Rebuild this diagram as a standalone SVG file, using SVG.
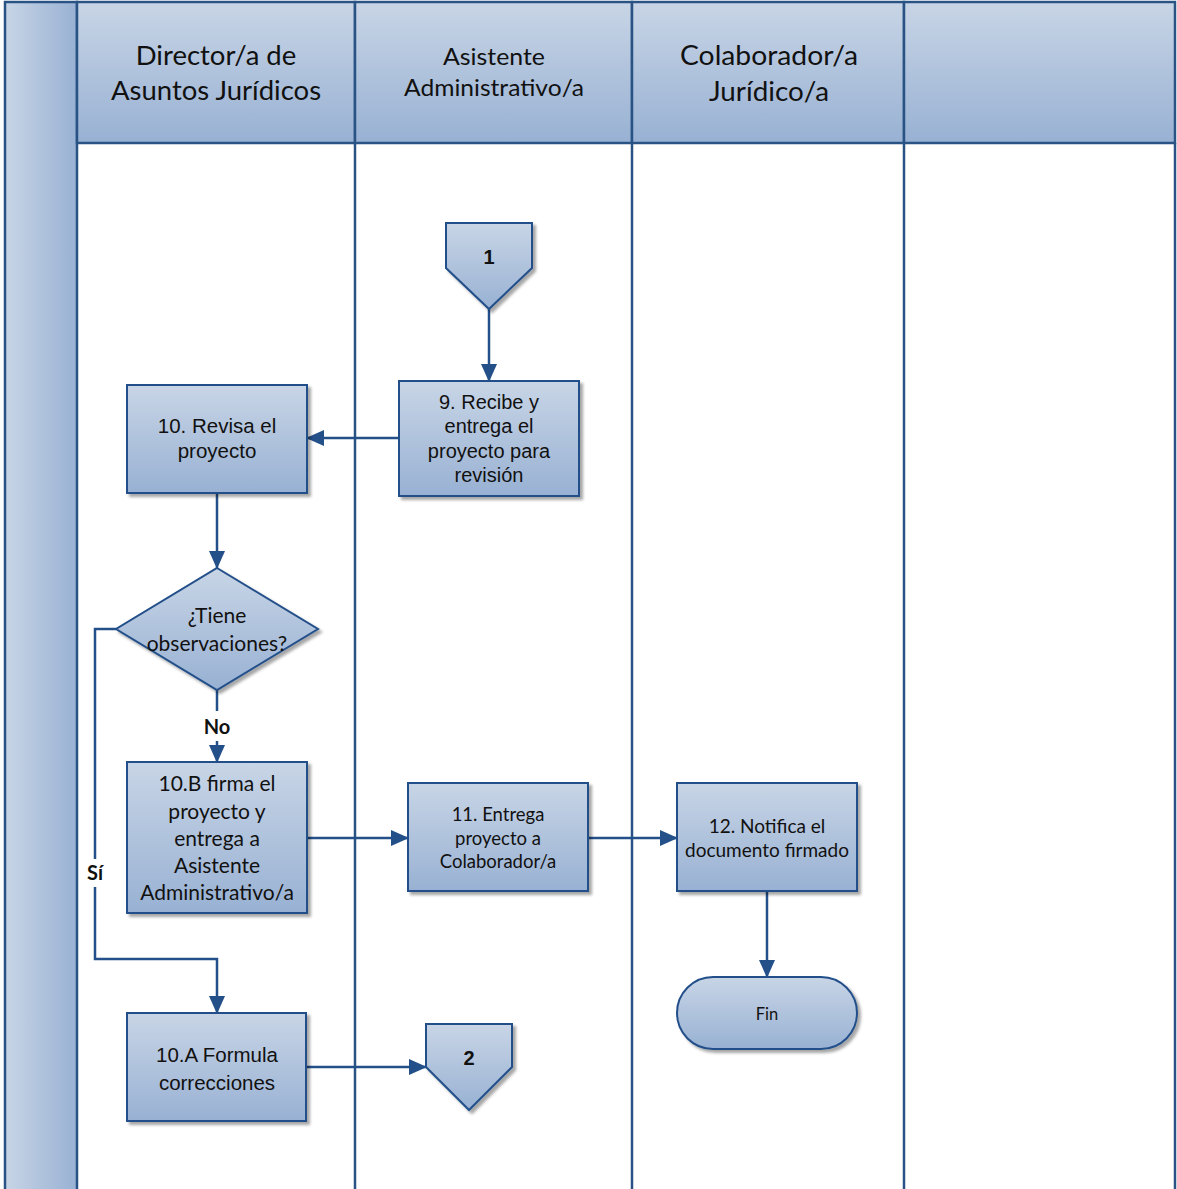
<svg xmlns="http://www.w3.org/2000/svg" width="1177" height="1189" viewBox="0 0 1177 1189">
  <defs>
    <linearGradient id="gFill" x1="0" y1="0" x2="0" y2="1">
      <stop offset="0" stop-color="#c8d5e6"/>
      <stop offset="1" stop-color="#98b1d3"/>
    </linearGradient>
    <linearGradient id="gBand" x1="0" y1="0" x2="1" y2="0">
      <stop offset="0" stop-color="#c8d5e6"/>
      <stop offset="1" stop-color="#98b1d3"/>
    </linearGradient>
    <filter id="shadow" x="-10%" y="-10%" width="130%" height="130%">
      <feDropShadow dx="3" dy="3" stdDeviation="1.5" flood-color="#000" flood-opacity="0.35"/>
    </filter>
    <marker id="arrow" viewBox="0 0 18 16" refX="17" refY="8" markerWidth="18" markerHeight="16" markerUnits="userSpaceOnUse" orient="auto">
      <path d="M0,0 L18,8 L0,16 Z" fill="#24508a"/>
    </marker>
  </defs>
  <style>
    .frame { fill: none; stroke: #2a5385; stroke-width: 2.5; }
    .head { fill: url(#gFill); stroke: #2a5385; stroke-width: 2.5; }
    .shape { fill: url(#gFill); stroke: #24508a; stroke-width: 2; filter: url(#shadow); }
    .conn { fill: none; stroke: #24508a; stroke-width: 2.5; }
    .ha { font-family: "Liberation Sans", Arial, sans-serif; fill: #111; text-anchor: middle; }
    .hc { font-family: Lato, "Noto Sans", sans-serif; fill: #111; text-anchor: middle; }
    .bold { font-weight: bold; }
  </style>

  <!-- swimlane frame -->
  <g id="pool">
    <rect x="5" y="2" width="72" height="1190" fill="url(#gBand)" stroke="#2a5385" stroke-width="2.5"/>
    <rect class="head" x="77" y="2" width="278" height="141"/>
    <rect class="head" x="355" y="2" width="277" height="141"/>
    <rect class="head" x="632" y="2" width="272" height="141"/>
    <rect class="head" x="904" y="2" width="271" height="141"/>
    <line class="frame" x1="355" y1="143" x2="355" y2="1192"/>
    <line class="frame" x1="632" y1="143" x2="632" y2="1192"/>
    <line class="frame" x1="904" y1="143" x2="904" y2="1192"/>
    <line class="frame" x1="1175" y1="143" x2="1175" y2="1192"/>
    <text class="hc" font-size="27.5" x="216" y="65">Director/a de</text>
    <text class="hc" font-size="27.5" x="216" y="100">Asuntos Jurídicos</text>
    <text class="hc" font-size="24" x="494" y="65" textLength="102" lengthAdjust="spacingAndGlyphs">Asistente</text>
    <text class="hc" font-size="24" x="494" y="96" textLength="180" lengthAdjust="spacingAndGlyphs">Administrativo/a</text>
    <text class="hc" font-size="27" x="769" y="65" textLength="178" lengthAdjust="spacingAndGlyphs">Colaborador/a</text>
    <text class="hc" font-size="27" x="769" y="101" textLength="120" lengthAdjust="spacingAndGlyphs">Jurídico/a</text>
  </g>

  <!-- connectors -->
  <g id="connectors">
    <line class="conn" x1="489" y1="309" x2="489" y2="381" marker-end="url(#arrow)"/>
    <line class="conn" x1="399" y1="438" x2="307" y2="438" marker-end="url(#arrow)"/>
    <line class="conn" x1="217" y1="493" x2="217" y2="568" marker-end="url(#arrow)"/>
    <polyline class="conn" points="217,690 217,711"/>
    <line class="conn" x1="217" y1="741" x2="217" y2="762" marker-end="url(#arrow)"/>
    <polyline class="conn" points="116,629 95,629 95,859"/>
    <polyline class="conn" points="95,887 95,959 217,959 217,1013" marker-end="url(#arrow)"/>
    <line class="conn" x1="307" y1="838" x2="408" y2="838" marker-end="url(#arrow)"/>
    <line class="conn" x1="588" y1="838" x2="677" y2="838" marker-end="url(#arrow)"/>
    <line class="conn" x1="767" y1="891" x2="767" y2="977" marker-end="url(#arrow)"/>
    <line class="conn" x1="306" y1="1067" x2="426" y2="1067" marker-end="url(#arrow)"/>
    <text class="hc bold" font-size="20" x="217" y="734">No</text>
    <text class="hc bold" font-size="20" x="95" y="880">Sí</text>
  </g>

  <g id="offpage-1">
    <path class="shape" d="M446,223 L532,223 L532,268 L489,309 L446,268 Z"/>
    <text class="ha bold" font-size="20" x="489" y="264">1</text>
  </g>

  <g id="step-9">
    <rect class="shape" x="399" y="381" width="180" height="115"/>
    <text class="ha" font-size="20" x="489" y="409">9. Recibe y</text>
    <text class="ha" font-size="20" x="489" y="433">entrega el</text>
    <text class="ha" font-size="20" x="489" y="458">proyecto para</text>
    <text class="ha" font-size="20" x="489" y="482">revisión</text>
  </g>

  <g id="step-10">
    <rect class="shape" x="127" y="385" width="180" height="108"/>
    <text class="ha" font-size="20.5" x="217" y="433">10. Revisa el</text>
    <text class="ha" font-size="20.5" x="217" y="458">proyecto</text>
  </g>

  <g id="decision">
    <path class="shape" d="M217,568 L318,629 L217,690 L116,629 Z"/>
    <text class="hc" font-size="21" x="217" y="623">¿Tiene</text>
    <text class="hc" font-size="21" x="217" y="651">observaciones?</text>
  </g>

  <g id="step-10b">
    <rect class="shape" x="127" y="762" width="180" height="151"/>
    <text class="hc" font-size="21" x="217" y="791">10.B firma el</text>
    <text class="hc" font-size="21" x="217" y="819">proyecto y</text>
    <text class="hc" font-size="21" x="217" y="846">entrega a</text>
    <text class="hc" font-size="21" x="217" y="873">Asistente</text>
    <text class="hc" font-size="21" x="217" y="900">Administrativo/a</text>
  </g>

  <g id="step-10a">
    <rect class="shape" x="127" y="1013" width="179" height="108"/>
    <text class="ha" font-size="20.5" x="217" y="1062">10.A Formula</text>
    <text class="ha" font-size="20.5" x="217" y="1090">correcciones</text>
  </g>

  <g id="offpage-2">
    <path class="shape" d="M426,1024 L512,1024 L512,1067 L469,1110 L426,1067 Z"/>
    <text class="ha bold" font-size="20" x="469" y="1065">2</text>
  </g>

  <g id="step-11">
    <rect class="shape" x="408" y="783" width="180" height="108"/>
    <text class="hc" font-size="18.5" x="498" y="821">11. Entrega</text>
    <text class="hc" font-size="18.5" x="498" y="845">proyecto a</text>
    <text class="hc" font-size="18.5" x="498" y="868">Colaborador/a</text>
  </g>

  <g id="step-12">
    <rect class="shape" x="677" y="783" width="180" height="108"/>
    <text class="hc" font-size="19" x="767" y="833">12. Notifica el</text>
    <text class="hc" font-size="19" x="767" y="857">documento firmado</text>
  </g>

  <g id="end">
    <rect class="shape" x="677" y="977" width="180" height="72" rx="36" ry="36"/>
    <text class="hc" font-size="16.5" x="767" y="1020">Fin</text>
  </g>
</svg>
